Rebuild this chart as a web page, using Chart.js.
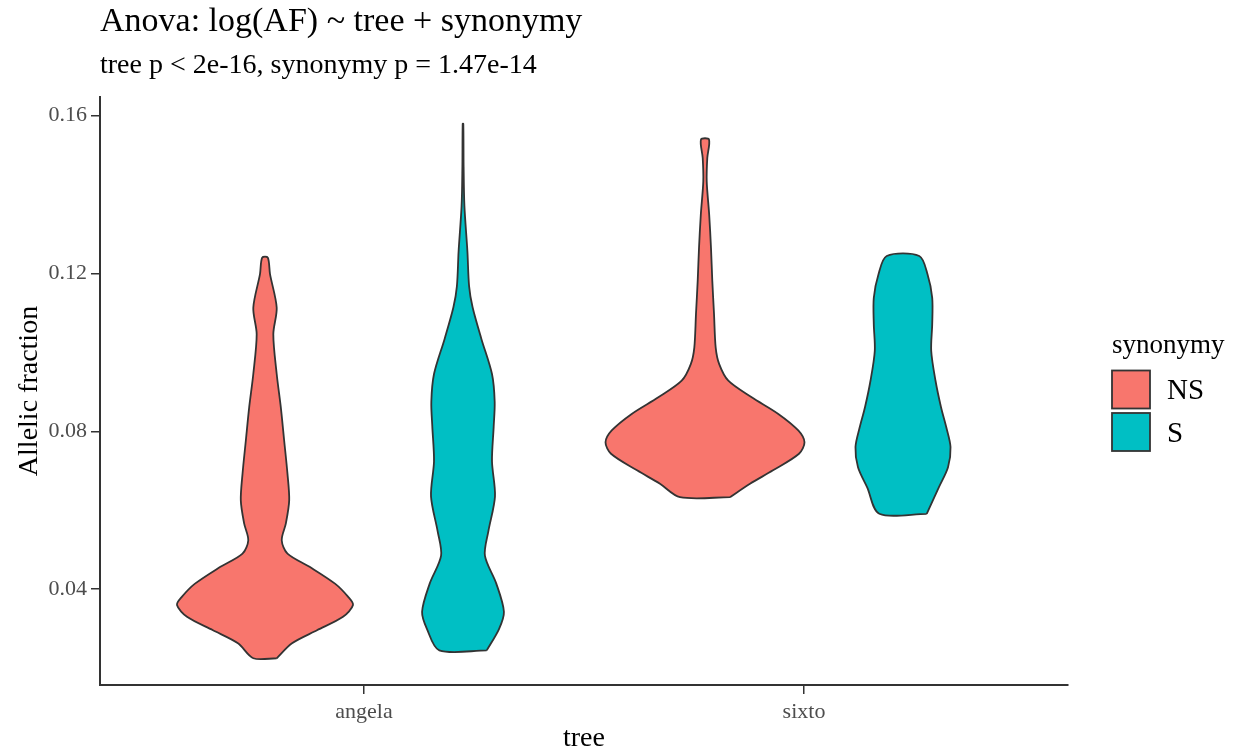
<!DOCTYPE html>
<html>
<head>
<meta charset="utf-8">
<title>Anova: log(AF) ~ tree + synonymy</title>
<script src="https://cdn.jsdelivr.net/npm/chart.js@4.4.1/dist/chart.umd.min.js"></script>
<style>
  html, body { margin: 0; padding: 0; background: #fff; }
  #wrap { position: relative; width: 1238px; height: 753px; }
</style>
</head>
<body>
<div id="wrap"><canvas id="violin"></canvas></div>
<script>
// ── data ──
const trees = ['angela', 'sixto'];
const groups = ['NS', 'S'];
const groupColors = ['#F8766D', '#00BFC4'];
const yTicks = [0.04, 0.08, 0.12, 0.16];

// violin outlines: allelic fraction (bottom -> top) and half width (category units)
const angelaNS_af = [0.0225, 0.0263, 0.0296, 0.0330, 0.0360, 0.0381, 0.0414, 0.0456, 0.0490, 0.0524,
                     0.0566, 0.0625, 0.0692, 0.0776, 0.0861, 0.0945, 0.1046, 0.1113, 0.1198, 0.1240];
const angelaNS_hw = [0.0266, 0.0614, 0.1182, 0.1773, 0.2000, 0.1886, 0.1591, 0.1023, 0.0511, 0.0380,
                     0.0473, 0.0550, 0.0511, 0.0436, 0.0359, 0.0266, 0.0189, 0.0266, 0.0114, 0.0064];

const angelaS_af = [0.0245, 0.0299, 0.0343, 0.0414, 0.0485, 0.0547, 0.0635, 0.0724, 0.0813, 0.0875,
                    0.0945, 0.1034, 0.1114, 0.1167, 0.1256, 0.1371, 0.1470, 0.1579];
const angelaS_hw = [0.0539, 0.0818, 0.0930, 0.0757, 0.0498, 0.0577, 0.0727, 0.0659, 0.0698, 0.0720,
                    0.0659, 0.0418, 0.0218, 0.0139, 0.0100, 0.0032, 0.0014, 0.0007];

const sixtoNS_af = [0.0633, 0.0667, 0.0701, 0.0743, 0.0772, 0.0802, 0.0844, 0.0886, 0.0928, 0.0970,
                    0.1012, 0.1097, 0.1181, 0.1265, 0.1349, 0.1433, 0.1492, 0.1539];
const sixtoNS_hw = [0.0568, 0.1023, 0.1545, 0.2136, 0.2261, 0.2120, 0.1666, 0.1061, 0.0530, 0.0323,
                    0.0243, 0.0205, 0.0166, 0.0136, 0.0095, 0.0039, 0.0052, 0.0091];

const sixtoS_af = [0.0591, 0.0658, 0.0709, 0.0760, 0.0810, 0.0861, 0.0928, 0.1004, 0.1071, 0.1138,
                   0.1198, 0.1244];
const sixtoS_hw = [0.0539, 0.0814, 0.1023, 0.1080, 0.0984, 0.0864, 0.0739, 0.0641, 0.0664, 0.0664,
                   0.0557, 0.0370];

const violins = [
  { tree: 0, group: 0, af: angelaNS_af, hw: angelaNS_hw },
  { tree: 0, group: 1, af: angelaS_af, hw: angelaS_hw },
  { tree: 1, group: 0, af: sixtoNS_af, hw: sixtoNS_hw },
  { tree: 1, group: 1, af: sixtoS_af, hw: sixtoS_hw }
];

const SERIF = '"Liberation Serif", "DejaVu Serif", serif';
const DODGE = 0.225;

// closed outline: right side going up, left side coming down
function outline(v) {
  const c = v.tree + 1 + (v.group === 0 ? -DODGE : DODGE);
  const right = v.af.map((a, i) => ({ x: c + v.hw[i], y: a }));
  const left = v.af.map((a, i) => ({ x: c - v.hw[i], y: a })).reverse();
  return right.concat(left, [right[0]]);
}

// legend drawn at the right, like ggplot's
const synLegend = {
  id: 'synLegend',
  afterDraw(chart) {
    const ctx = chart.ctx;
    ctx.save();
    ctx.textAlign = 'left';
    ctx.textBaseline = 'alphabetic';
    ctx.fillStyle = '#000';
    ctx.font = '27px ' + SERIF;
    ctx.fillText('synonymy', 1112, 353);
    groups.forEach((g, i) => {
      const top = 370.5 + i * 42.5;
      ctx.fillStyle = groupColors[i];
      ctx.fillRect(1112, top, 38, 38);
      ctx.strokeStyle = '#333';
      ctx.lineWidth = 1.8;
      ctx.strokeRect(1112, top, 38, 38);
      ctx.fillStyle = '#000';
      ctx.font = '29px ' + SERIF;
      ctx.fillText(g, 1167, top + 19 + 9.6);
    });
    ctx.restore();
  }
};

new Chart(document.getElementById('violin'), {
  type: 'line',
  data: {
    datasets: violins.map(v => ({
      label: trees[v.tree] + ' ' + groups[v.group],
      data: outline(v),
      backgroundColor: groupColors[v.group],
      borderColor: '#333333',
      borderWidth: 1.8,
      pointRadius: 0,
      tension: 0.3,
      fill: 'shape'
    }))
  },
  options: {
    indexAxis: 'y',
    responsive: true,
    maintainAspectRatio: false,
    animation: false,
    events: [],
    layout: { padding: { left: 0, right: 170, top: 0, bottom: 0 } },
    elements: { line: { borderJoinStyle: 'round' } },
    plugins: {
      legend: { display: false },
      tooltip: { enabled: false },
      title: {
        display: true,
        text: 'Anova: log(AF) ~ tree + synonymy',
        align: 'start',
        fullSize: false,
        color: '#000',
        font: { family: SERIF, size: 34, weight: 'normal', lineHeight: 1.1 },
        padding: { top: 3, bottom: 0 }
      },
      subtitle: {
        display: true,
        text: 'tree p < 2e-16, synonymy p = 1.47e-14',
        align: 'start',
        fullSize: false,
        color: '#000',
        font: { family: SERIF, size: 28, weight: 'normal', lineHeight: 1.2 },
        padding: { top: 8, bottom: 15 }
      }
    },
    scales: {
      x: {
        type: 'linear',
        min: 0.4,
        max: 2.6,
        afterBuildTicks: s => { s.ticks = trees.map((t, i) => ({ value: i + 1 })); },
        afterFit: s => { s.height = 68; },
        ticks: {
          callback: v => trees[v - 1],
          color: '#4D4D4D',
          font: { family: SERIF, size: 22 },
          padding: 5,
          maxRotation: 0,
          autoSkip: false
        },
        grid: { drawOnChartArea: false, tickLength: 9, color: '#333', lineWidth: 1.5 },
        border: { color: '#333', width: 2 },
        title: {
          display: true,
          text: 'tree',
          color: '#000',
          font: { family: SERIF, size: 28, lineHeight: 1 },
          padding: { top: 0, bottom: 0 }
        }
      },
      y: {
        type: 'linear',
        min: 0.01573,
        max: 0.16467,
        afterBuildTicks: s => { s.ticks = yTicks.map(v => ({ value: v })); },
        afterFit: s => { s.width = 100; },
        ticks: {
          callback: v => v.toFixed(2),
          color: '#4D4D4D',
          font: { family: SERIF, size: 22 },
          padding: 4
        },
        grid: { drawOnChartArea: false, tickLength: 9, color: '#333', lineWidth: 1.5 },
        border: { color: '#333', width: 2 },
        title: {
          display: true,
          text: 'Allelic fraction',
          color: '#000',
          font: { family: SERIF, size: 28, lineHeight: 1 },
          padding: { top: 16, bottom: 0 }
        }
      }
    }
  },
  plugins: [synLegend]
});
</script>
</body>
</html>
